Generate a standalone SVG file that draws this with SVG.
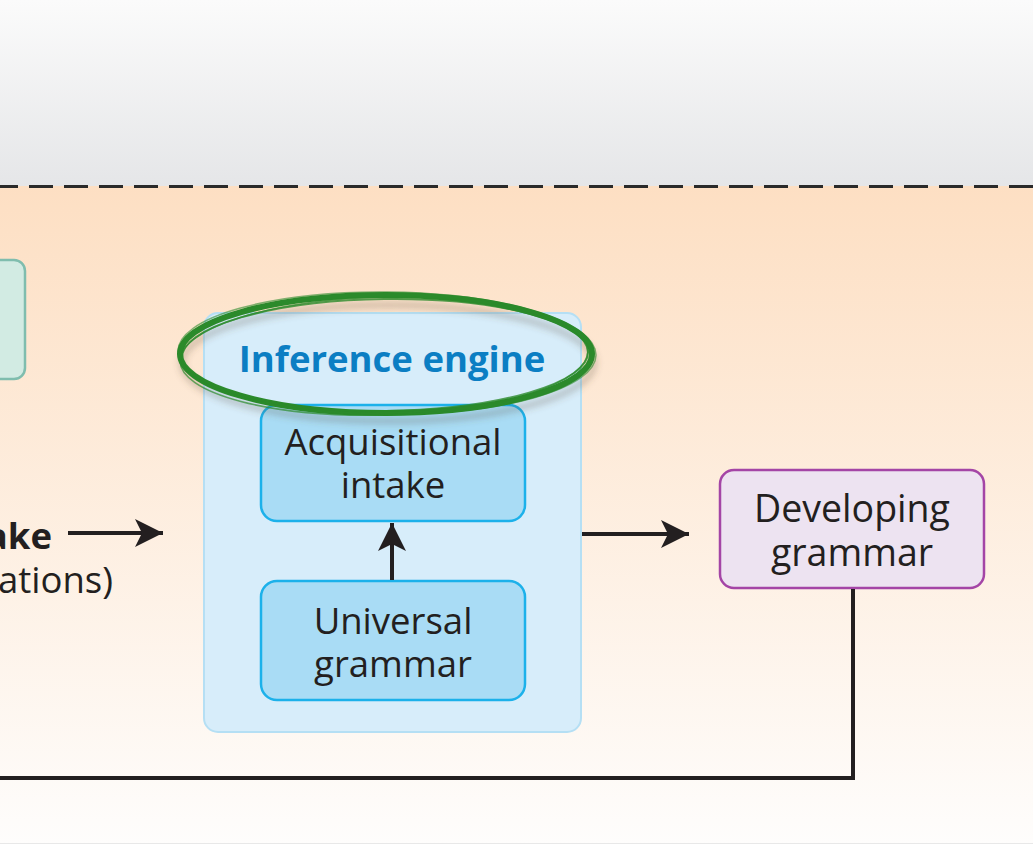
<svg xmlns="http://www.w3.org/2000/svg" width="1033" height="844" viewBox="0 0 1033 844">
<defs>
<linearGradient id="gTop" x1="0" y1="0" x2="0" y2="1">
<stop offset="0" stop-color="#fbfbfb"/>
<stop offset="1" stop-color="#e5e6e8"/>
</linearGradient>
<linearGradient id="gBot" x1="0" y1="0" x2="0" y2="1">
<stop offset="0" stop-color="#fddfc3"/>
<stop offset="1" stop-color="#fefdfc"/>
</linearGradient>
<marker id="ah" viewBox="0 0 10 10" refX="10" refY="5" markerWidth="8.5" markerHeight="7" markerUnits="strokeWidth" orient="auto">
<path d="M0,0 L10,5 L0,10 L2.5,5 Z" fill="#231f20"/>
</marker>
<filter id="blur" x="-10%" y="-20%" width="120%" height="140%">
<feGaussianBlur stdDeviation="3"/>
</filter>
</defs>
<style>
.t{font-family:"Open Sans","Noto Sans","Liberation Sans",sans-serif;font-size:36.5px;fill:#231f20;text-anchor:middle}
.b{font-weight:bold}
.conn{stroke:#231f20;stroke-width:4;fill:none}
.inner{fill:#a9dcf5;stroke:#1cb1ea;stroke-width:2.5}
.ell{fill:none;stroke:#2b8a2b}
</style>
<rect x="0" y="0" width="1033" height="186" fill="url(#gTop)"/>
<rect x="0" y="186" width="1033" height="658" fill="url(#gBot)"/>
<line x1="-6" y1="186.5" x2="1033" y2="186.5" stroke="#2a2a2a" stroke-width="3" stroke-dasharray="24 11"/>
<rect x="0" y="843" width="1033" height="1" fill="#e8e8e8"/>

<g id="left-box">
<rect x="-20" y="260" width="45" height="119" rx="11" fill="#d2ebe3" stroke="#7fbdae" stroke-width="2.5"/>
</g>

<g id="intake-label">
<text class="t b" x="52" y="549" style="text-anchor:end">ake</text>
<text class="t" x="113" y="593" style="text-anchor:end">ations)</text>
</g>

<g id="inference-engine">
<rect x="204" y="313" width="377" height="419" rx="14" fill="#d7edfa" stroke="#b5dff4" stroke-width="2"/>
<text class="t b" x="392" y="372" style="font-size:36.5px;fill:#0b7ec3">Inference engine</text>
</g>

<g id="acquisitional-intake">
<rect class="inner" x="261" y="405" width="264" height="116" rx="16"/>
<text class="t" x="393" y="455">Acquisitional</text>
<text class="t" x="393" y="498">intake</text>
</g>

<g id="universal-grammar">
<rect class="inner" x="261" y="581" width="264" height="119" rx="16"/>
<text class="t" x="393" y="634">Universal</text>
<text class="t" x="393" y="677">grammar</text>
</g>

<g id="developing-grammar">
<rect x="720" y="470" width="264" height="118" rx="14" fill="#ede3f1" stroke="#a445a6" stroke-width="2.5"/>
<text class="t" x="852" y="522" style="font-size:37.5px">Developing</text>
<text class="t" x="852" y="566" style="font-size:37.5px">grammar</text>
</g>

<g id="connectors">
<line class="conn" x1="68" y1="533" x2="163" y2="533" marker-end="url(#ah)"/>
<line class="conn" x1="392" y1="580" x2="392" y2="523" marker-end="url(#ah)"/>
<line class="conn" x1="582" y1="534" x2="689" y2="534" marker-end="url(#ah)"/>
<polyline class="conn" points="853,589 853,778 -5,778"/>
</g>

<g id="highlight">
<ellipse cx="386" cy="357" rx="206" ry="58" fill="none" stroke="#5a4a3a" stroke-opacity="0.25" stroke-width="7" filter="url(#blur)" transform="translate(2,6)"/>
<ellipse class="ell" cx="386" cy="354" rx="206" ry="59" stroke-width="6"/>
<ellipse class="ell" cx="385" cy="355" rx="203" ry="56" stroke-width="2" stroke-opacity="0.8" transform="rotate(-0.8 385 355)"/>
<ellipse class="ell" cx="387" cy="353" rx="209" ry="61" stroke-width="1.5" stroke-opacity="0.6" transform="rotate(0.6 387 353)"/>
<ellipse class="ell" cx="384" cy="356" rx="204" ry="59" stroke-width="1.5" stroke-opacity="0.7" transform="rotate(-1.5 384 356)"/>
</g>
</svg>
